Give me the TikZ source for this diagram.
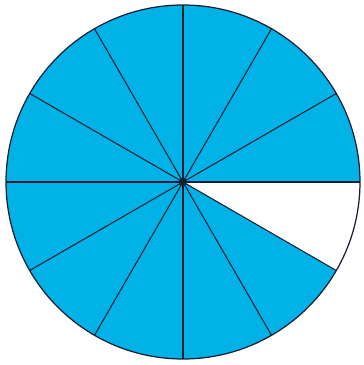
\documentclass[tikz,border=0pt]{standalone}
\usepackage{tikz}
\definecolor{pieblue}{RGB}{0,178,230}
\definecolor{pieline}{RGB}{20,30,50}

\begin{document}
\begin{tikzpicture}[
        sector/.style={fill=pieblue, draw=none},
        spoke/.style={draw=pieline, line width=0.6pt},
        rim/.style={draw=pieline, line width=0.7pt}
    ]
    \useasboundingbox (0,0) rectangle (7.26,7.30);
    \coordinate (c) at (3.66,3.66);
    
    % Filled sectors
    \foreach \a in {0,30,...,300} {
        \fill[sector] (c) -- ++(\a:3.54) arc[start angle=\a, end angle=\a+30, radius=3.54] -- cycle;
    }
    
    % Spokes
    \foreach \a in {0,30,...,330} {
        \draw[spoke] (c) -- ++(\a:3.54);
    }
    
    % Rim and centre
    \draw[rim] (c) circle (3.54);
    \fill[pieline] (c) circle (0.08);
    
\end{tikzpicture}
\end{document}
